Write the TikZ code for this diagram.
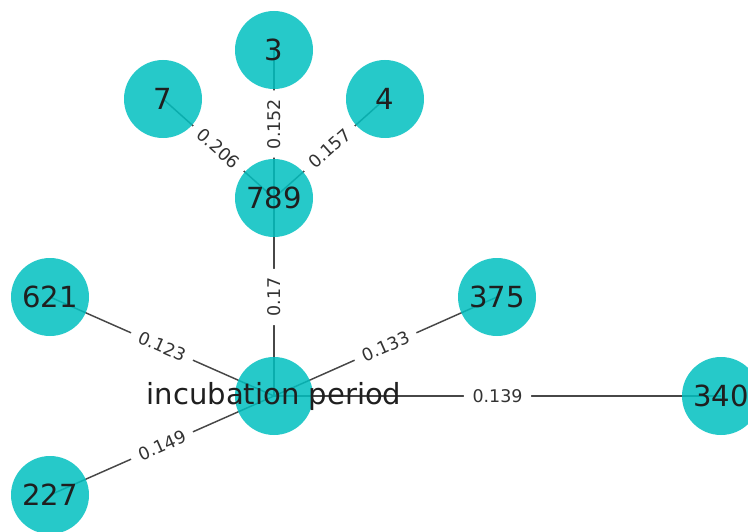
\documentclass[tikz,border=0pt]{standalone}
\usepackage{fontspec}
\setmainfont{DejaVu Sans}
\pgfdeclarelayer{edgelayer}
\pgfsetlayers{edgelayer,main}
\definecolor{nodecyan}{RGB}{0,191,191}
\begin{document}
\begin{tikzpicture}[x=0.75pt,y=-0.75pt,
  vertex/.style={circle, minimum size=58.5pt, inner sep=0pt,
    fill=nodecyan, fill opacity=0.85, text opacity=1,
    text=black!88, font=\fontsize{21.8}{26}\selectfont},
  vtext/.style={inner sep=0pt, text=black!88, font=\fontsize{21.8}{26}\selectfont},
  edge/.style={draw=black!72, line width=1.1pt},
  weight/.style={midway, sloped, fill=white, rounded corners=3pt,
    inner xsep=6.5pt, inner ysep=2.5pt, text=black!80,
    font=\fontsize{13.1}{15}\selectfont}]
\useasboundingbox (0,0) rectangle (748,531);
\clip (0,0) rectangle (748,531);

% vertices
\node[vertex] (n3)   at (274,50)  {3};
\node[vertex] (n7)   at (163,99)  {7};
\node[vertex] (n4)   at (385,99)  {4};
\node[vertex] (n789) at (274,198) {789};
\node[vertex] (n621) at (50,297)  {621};
\node[vertex] (n375) at (497,297) {375};
\node[vertex] (inc)  at (274,396) {};
\node[vertex] (n340) at (721,396) {340};
\node[vertex] (n227) at (50,495)  {227};

% edges, drawn centre to centre beneath the vertices
\begin{pgfonlayer}{edgelayer}
\draw[edge] (n789.center) -- (n3.center);
\draw[edge] (n7.center) -- (n789.center);
\draw[edge] (n4.center) -- (n789.center);
\draw[edge] (inc.center) -- (n789.center);
\draw[edge] (n621.center) -- (inc.center);
\draw[edge] (n375.center) -- (inc.center);
\draw[edge] (inc.center) -- (n340.center);
\draw[edge] (n227.center) -- (inc.center);
\end{pgfonlayer}

% edge weights (vertical ones read upwards)
\path (n789.center) -- (n3.center) node[weight] (w1) {0.152};
\path (n7.center) -- (n789.center) node[weight] (w2) {0.206};
\path (n4.center) -- (n789.center) node[weight] (w3) {0.157};
\path (inc.center) -- (n789.center) node[weight] (w4) {0.17};
\path (n621.center) -- (inc.center) node[weight] (w5) {0.123};
\path (n375.center) -- (inc.center) node[weight] (w6) {0.133};
\path (inc.center) -- (n340.center) node[weight] (w7) {0.139};
\path (n227.center) -- (inc.center) node[weight] (w8) {0.149};

% label of the central vertex, wider than its disc
\node[vtext] (inctext) at (inc) {incubation period};
\end{tikzpicture}
\end{document}
